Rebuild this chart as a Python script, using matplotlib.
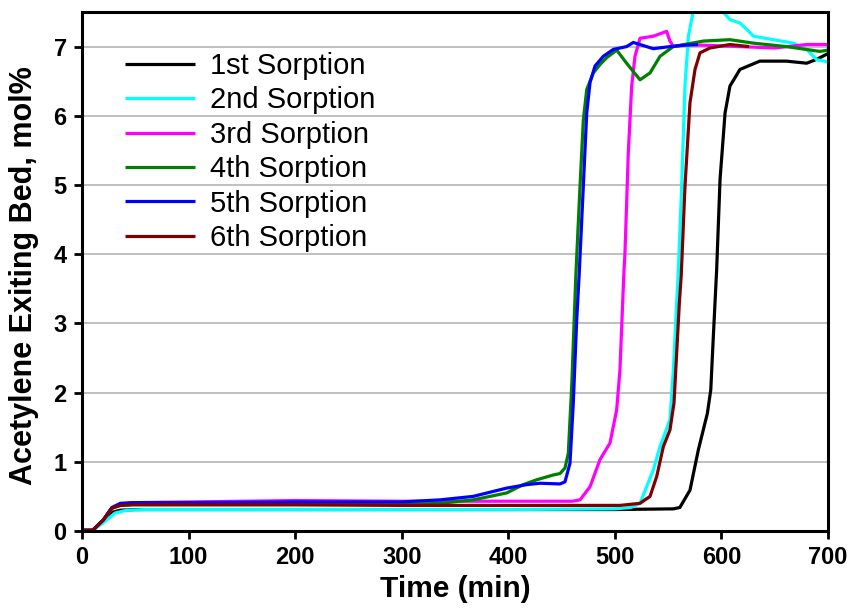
import matplotlib
matplotlib.use("Agg")
import matplotlib.pyplot as plt

# ---- data ----
labels = ["1st Sorption", "2nd Sorption", "3rd Sorption",
          "4th Sorption", "5th Sorption", "6th Sorption"]

t1 = [0, 10, 20, 28, 36, 50, 100, 200, 300, 400, 500, 555, 561, 570.5, 578.3,
      586.8, 590, 592.4, 595.5, 598.7, 603.4, 608, 617.4, 636, 661, 680, 690, 700]
v1 = [0.01, 0.01, 0.14, 0.27, 0.30, 0.31, 0.31, 0.31, 0.31, 0.31, 0.31, 0.32,
      0.34, 0.59, 1.17, 1.70, 2.04, 2.81, 3.77, 5.08, 6.04, 6.43, 6.67, 6.79,
      6.79, 6.76, 6.82, 6.90]

t2 = [0, 10, 20, 31, 42, 60, 100, 200, 300, 400, 500, 515, 523.6, 536, 542.4,
      551.7, 554.9, 558, 559.6, 562.7, 565.8, 569, 572, 575, 585, 595, 601.8,
      608, 617.4, 623.7, 630, 648.7, 667.4, 680, 689.4, 700]
v2 = [0.01, 0.01, 0.12, 0.26, 0.30, 0.31, 0.31, 0.31, 0.31, 0.31, 0.32, 0.34,
      0.40, 0.88, 1.22, 1.61, 2.33, 3.29, 3.77, 4.98, 6.43, 7.15, 7.39, 7.60,
      7.70, 7.65, 7.50, 7.39, 7.34, 7.25, 7.15, 7.10, 7.05, 6.96, 6.81, 6.78]

t3 = [0, 10, 20, 28, 36, 48, 100, 200, 300, 400, 460, 467.3, 476.7, 486, 495.4,
      501.7, 504.8, 507.3, 508.6, 509.5, 512.6, 515.8, 518.9, 523.6, 536, 548.6,
      551.7, 555, 567, 617, 650, 680, 700]
v3 = [0.01, 0.01, 0.16, 0.33, 0.39, 0.41, 0.42, 0.44, 0.43, 0.43, 0.43, 0.45,
      0.64, 1.03, 1.27, 1.75, 2.33, 3.29, 3.77, 4.02, 5.46, 6.43, 6.86, 7.12,
      7.15, 7.22, 7.08, 7.00, 7.03, 7.00, 6.98, 7.03, 7.03]

t4 = [0, 10, 20, 28, 36, 48, 100, 200, 300, 336, 367, 398.5, 414, 426.6, 442.3,
      448.5, 453.2, 456.3, 459.5, 463.4, 467.3, 470.4, 473.6, 479.8, 486, 492.3,
      501.7, 511, 517.3, 523.6, 533, 542.4, 554.8, 583, 608, 630, 661, 692.5, 700]
v4 = [0.01, 0.01, 0.16, 0.33, 0.37, 0.38, 0.38, 0.38, 0.38, 0.40, 0.45, 0.55,
      0.67, 0.74, 0.81, 0.83, 0.91, 1.12, 2.09, 3.70, 4.98, 5.94, 6.38, 6.62,
      6.74, 6.84, 6.95, 6.76, 6.64, 6.52, 6.62, 6.86, 7.00, 7.08, 7.10, 7.05,
      7.00, 6.93, 6.95]

t5 = [0, 10, 20, 28, 36, 48, 100, 200, 300, 336, 367, 398.5, 417.3, 429.8,
      448.5, 453.2, 457.9, 461, 464.2, 466.5, 470.4, 473.6, 476.7, 481.4, 489.2,
      498.6, 511, 517.3, 536, 551.7, 565, 578]
v5 = [0.01, 0.01, 0.16, 0.34, 0.40, 0.41, 0.41, 0.42, 0.42, 0.45, 0.50, 0.62,
      0.67, 0.69, 0.68, 0.71, 0.98, 1.85, 3.05, 3.70, 4.98, 6.04, 6.48, 6.72,
      6.86, 6.96, 7.00, 7.06, 6.97, 7.00, 7.02, 7.03]

t6 = [0, 10, 20, 28, 36, 48, 100, 200, 300, 400, 504.8, 523.6, 533, 539.3,
      545.5, 551.7, 555.5, 558, 560.5, 562.3, 565.8, 570.5, 575.2, 579.9, 589.3,
      608, 626]
v6 = [0.01, 0.01, 0.16, 0.33, 0.37, 0.38, 0.38, 0.38, 0.37, 0.37, 0.37, 0.40,
      0.50, 0.79, 1.22, 1.46, 1.85, 2.57, 3.29, 3.70, 4.98, 6.19, 6.67, 6.91,
      6.98, 7.03, 7.00]

colors = ["#000000", "#00FFFF", "#FF00FF", "#008000", "#0000FF", "#800000"]
x_ticks = [0, 100, 200, 300, 400, 500, 600, 700]
y_ticks = [0, 1, 2, 3, 4, 5, 6, 7]

# ---- figure ----
plt.rcParams["font.family"] = ["Liberation Sans", "DejaVu Sans"]
fig = plt.figure(figsize=(8.54, 6.11), dpi=100)
ax = fig.add_axes([82 / 854, 1 - 531 / 611, (828 - 82) / 854, (531 - 12) / 611])

series = [(t1, v1), (t2, v2), (t3, v3), (t4, v4), (t5, v5), (t6, v6)]
for (t, v), c, lab in zip(series, colors, labels):
    ax.plot(t, v, color=c, lw=2.3, label=lab, solid_capstyle="butt")

ax.set_xlim(0, 700)
ax.set_ylim(0, 7.5)
ax.set_xticks(x_ticks)
ax.set_yticks(y_ticks)
ax.yaxis.grid(True, color="#c0c0c0", lw=1.4)
ax.set_axisbelow(True)
for s in ax.spines.values():
    s.set_linewidth(2.2)
    s.set_color("black")
ax.tick_params(direction="out", length=6, width=2.0, labelsize=17, pad=5)
for lbl in ax.get_xticklabels() + ax.get_yticklabels():
    lbl.set_fontweight("bold")

ax.set_xlabel("Time (min)", fontsize=21.5, fontweight="bold", labelpad=4)
ax.set_ylabel("Acetylene Exiting Bed, mol%", fontsize=22, fontweight="bold")
ax.yaxis.set_label_coords(-0.057, 0.492)

leg = ax.legend(loc="upper left", bbox_to_anchor=(125 / 854, 1 - 52 / 611),
                bbox_transform=fig.transFigure, frameon=False, fontsize=21,
                handlelength=2.4, handletextpad=0.5, labelspacing=0.22,
                borderpad=0, borderaxespad=0)
for line in leg.get_lines():
    line.set_linewidth(2.3)

fig.savefig("out.png", dpi=100)
